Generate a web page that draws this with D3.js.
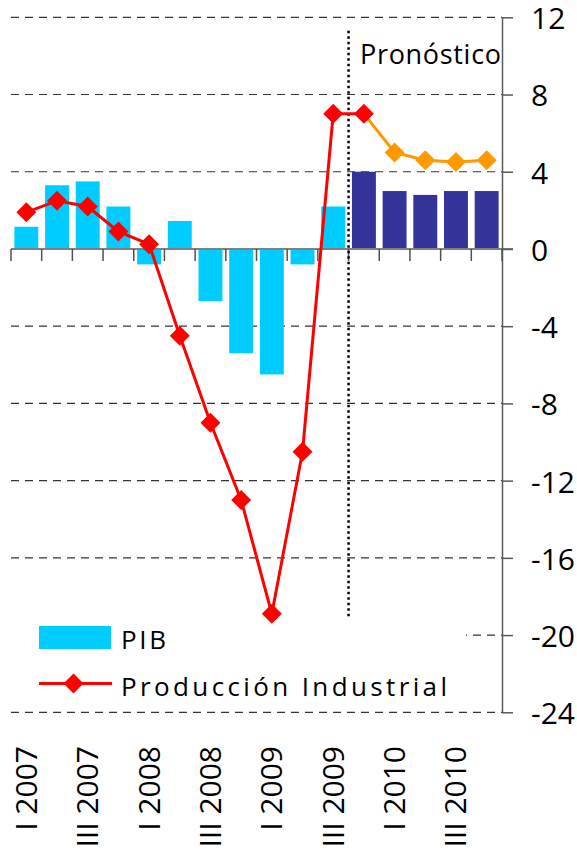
<!DOCTYPE html>
<html>
<head>
<meta charset="utf-8">
<script src="https://cdn.jsdelivr.net/npm/d3@7"></script>
<style>
    body { margin: 0; background: #fff; }
    svg { display: block; font-family: "Open Sans", "Noto Sans", sans-serif; }
</style>
</head>
<body>
<div id="chart"></div>
<script>
// quarters on the x axis
var categories = ["I 2007","II 2007","III 2007","IV 2007",
                  "I 2008","II 2008","III 2008","IV 2008",
                  "I 2009","II 2009","III 2009","IV 2009",
                  "I 2010","II 2010","III 2010","IV 2010"];

// PIB (bars)
var pib = [1.15, 3.3, 3.5, 2.2, -0.8, 1.45, -2.7, -5.4, -6.5, -0.8, 2.2, 4.0, 3.0, 2.8, 3.0, 3.0];

// Produccion Industrial (line)
var industrial = [1.9, 2.5, 2.2, 0.9, 0.25, -4.5, -9.0, -13.0, -18.9, -10.5, 7.0, 7.0, 5.0, 4.6, 4.5, 4.6];

// first forecast quarter
var forecastStart = "IV 2009";

// y axis ticks
var yTicks = [12, 8, 4, 0, -4, -8, -12, -16, -20, -24];

// labelled quarters (every other one)
var xLabels = ["I 2007","III 2007","I 2008","III 2008","I 2009","III 2009","I 2010","III 2010"];

function init(){
    var w = 577;
    var h = 853;

    var left = 11, right = 502, top = 17.3, bottom = 712.3;

    var svg = d3.select("#chart")
                .append("svg")
                .attr("width", w)
                .attr("height", h);

    var xScale = d3.scaleBand()
                .domain(categories)
                .range([left, right])
                .paddingInner(0.22)
                .paddingOuter(0.11);

    var yScale = d3.scaleLinear()
                .domain([-24, 12])
                .range([bottom, top]);

    var step = xScale.step();
    var fIndex = categories.indexOf(forecastStart);

    //dashed gridlines
    svg.selectAll("line.grid")
        .data(yTicks.filter(function(d){ return d !== 0; }))
        .enter()
        .append("line")
        .attr("class", "grid")
        .attr("x1", left)
        .attr("x2", right)
        .attr("y1", function(d){ return yScale(d); })
        .attr("y2", function(d){ return yScale(d); })
        .attr("stroke", "#333")
        .attr("stroke-width", 1.2)
        .attr("stroke-dasharray", "8,6");

    //bars
    svg.selectAll("rect.bar")
        .data(pib)
        .enter()
        .append("rect")
        .attr("class", "bar")
        .attr("x", function(d, i){ return xScale(categories[i]); })
        .attr("y", function(d){ return yScale(Math.max(0, d)); })
        .attr("width", xScale.bandwidth())
        .attr("height", function(d){ return Math.abs(yScale(d) - yScale(0)); })
        .attr("fill", function(d, i){ return i >= fIndex ? "#333399" : "#00CCFF"; });

    //zero axis line
    svg.append("line")
        .attr("x1", left)
        .attr("x2", right + 11)
        .attr("y1", yScale(0))
        .attr("y2", yScale(0))
        .attr("stroke", "#808080")
        .attr("stroke-width", 2);

    //tick marks between quarters
    var tickPos = categories.map(function(c){ return xScale(c) - step * 0.11; });
    tickPos.push(right);
    svg.selectAll("line.xtick")
        .data(tickPos)
        .enter()
        .append("line")
        .attr("class", "xtick")
        .attr("x1", function(d){ return d; })
        .attr("x2", function(d){ return d; })
        .attr("y1", yScale(0))
        .attr("y2", yScale(0) + 12)
        .attr("stroke", "#505050")
        .attr("stroke-width", 1.5);

    //right axis, plain hyphen for negatives
    var yAxis = d3.axisRight(yScale)
                .tickValues(yTicks)
                .tickFormat(function(d){ return String(d); })
                .tickSize(11)
                .tickSizeOuter(0)
                .tickPadding(18);

    var gy = svg.append("g")
        .attr("transform", "translate(" + right + ",0)")
        .call(yAxis);
    gy.select(".domain").attr("stroke", "#595959").attr("stroke-width", 1.5);
    gy.selectAll(".tick line").attr("stroke", "#595959").attr("stroke-width", 1.5);
    gy.selectAll(".tick text")
        .attr("font-family", "Open Sans")
        .attr("font-size", 30)
        .attr("dy", "0.38em")
        .attr("fill", "#000");

    //forecast divider
    svg.append("line")
        .attr("x1", xScale(forecastStart) - step * 0.11)
        .attr("x2", xScale(forecastStart) - step * 0.11)
        .attr("y1", yScale(11.3))
        .attr("y2", yScale(-19.05))
        .attr("stroke", "#000")
        .attr("stroke-width", 2.5)
        .attr("stroke-dasharray", "2.5,3");

    svg.append("text")
        .text("Pronóstico")
        .attr("x", 360)
        .attr("y", 64)
        .attr("font-size", 27)
        .attr("textLength", 141)
        .attr("lengthAdjust", "spacing")
        .attr("fill", "#000");

    //industrial line, red for history, orange for forecast
    var line = d3.line()
                .x(function(d){ return xScale(d.c) + xScale.bandwidth() / 2; })
                .y(function(d){ return yScale(d.v); });

    var pts = industrial.map(function(v, i){ return {c: categories[i], v: v, i: i}; });

    svg.append("path")
        .datum(pts.slice(0, fIndex + 1))
        .attr("d", line)
        .attr("fill", "none")
        .attr("stroke", "#FF0000")
        .attr("stroke-width", 3);

    svg.append("path")
        .datum(pts.slice(fIndex))
        .attr("d", line)
        .attr("fill", "none")
        .attr("stroke", "#FF9900")
        .attr("stroke-width", 3);

    var diamond = d3.symbol().type(d3.symbolSquare).size(200);

    svg.selectAll("path.marker")
        .data(pts)
        .enter()
        .append("path")
        .attr("class", "marker")
        .attr("d", diamond)
        .attr("transform", function(d){
            return "translate(" + (xScale(d.c) + xScale.bandwidth() / 2) + "," + yScale(d.v) + ") rotate(45)";
        })
        .attr("fill", function(d){ return d.i > fIndex ? "#FF9900" : "#FF0000"; });

    //x labels, rotated
    svg.selectAll("text.xlab")
        .data(xLabels)
        .enter()
        .append("text")
        .attr("class", "xlab")
        .text(function(d){ return d; })
        .attr("text-anchor", "end")
        .attr("font-size", 30)
        .attr("fill", "#000")
        .attr("transform", function(d){
            return "translate(" + (xScale(d) + xScale.bandwidth() / 2 + 10.5) + ",746) rotate(-90)";
        });

    //legend
    var legend = svg.append("g");

    legend.append("rect")
        .attr("x", left)
        .attr("y", 626)
        .attr("width", 455)
        .attr("height", 78)
        .attr("fill", "#fff");

    legend.append("rect")
        .attr("x", 39)
        .attr("y", 626)
        .attr("width", 72)
        .attr("height", 23)
        .attr("fill", "#00CCFF");

    legend.append("text")
        .text("PIB")
        .attr("x", 121)
        .attr("y", 649)
        .attr("font-size", 26)
        .attr("textLength", 45)
        .attr("lengthAdjust", "spacing");

    legend.append("line")
        .attr("x1", 39)
        .attr("x2", 112)
        .attr("y1", 683.5)
        .attr("y2", 683.5)
        .attr("stroke", "#FF0000")
        .attr("stroke-width", 3);

    legend.append("path")
        .attr("d", diamond)
        .attr("transform", "translate(73.5,683.5) rotate(45)")
        .attr("fill", "#FF0000");

    legend.append("text")
        .text("Producción Industrial")
        .attr("x", 121)
        .attr("y", 696)
        .attr("font-size", 26)
        .attr("textLength", 326)
        .attr("lengthAdjust", "spacing");
}
window.onload = init;
</script>
</body>
</html>
